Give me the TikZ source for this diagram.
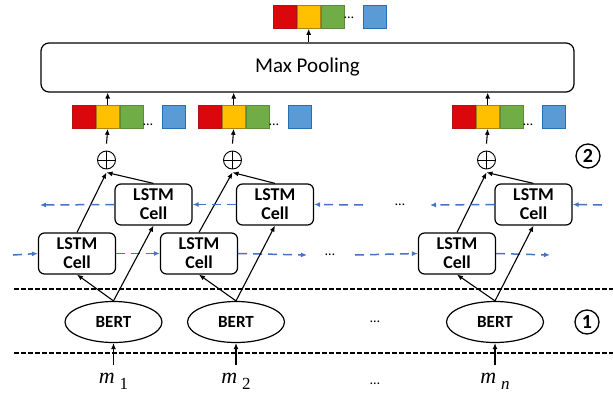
\documentclass[tikz,border=0pt]{standalone}
\usepackage{fontspec}
\setmainfont{Carlito}
\newfontfamily\mserif{Liberation Serif}
\usetikzlibrary{arrows.meta,shapes.geometric}
\definecolor{cred}{RGB}{218,7,12}
\definecolor{credd}{RGB}{170,20,20}
\definecolor{cyel}{RGB}{255,192,0}
\definecolor{cyeld}{RGB}{170,130,20}
\definecolor{cgrn}{RGB}{112,173,71}
\definecolor{cgrnd}{RGB}{90,140,60}
\definecolor{cblu}{RGB}{91,155,213}
\definecolor{cblud}{RGB}{40,110,180}
\definecolor{dashblue}{RGB}{68,114,196}
\tikzset{
  sq/.style={draw, minimum size=23pt, inner sep=0pt, line width=0.8pt, anchor=north west},
  cellbox/.style={draw, rounded corners=6pt, minimum width=77pt, minimum height=41pt,
    line width=1.2pt, align=center, inner sep=0pt,
    font=\fontsize{18}{19}\selectfont\bfseries},
  bertnode/.style={draw, ellipse, minimum width=97pt, minimum height=41pt, line width=1.2pt,
    inner sep=0pt, font=\fontsize{17}{17}\selectfont\bfseries},
  opl/.style={draw, circle, minimum size=18pt, inner sep=0pt, line width=0.9pt},
  arr/.style={-{Latex[length=6pt,width=5pt]}, line width=1.1pt},
  barr/.style={-{Latex[length=6pt,width=5pt]}, dashblue, line width=1.5pt, dash pattern=on 9pt off 6pt},
  sepline/.style={line width=1.2pt, dash pattern=on 5pt off 2pt},
  numcirc/.style={draw, circle, minimum size=24pt, inner sep=0pt, line width=1.3pt,
    font=\fontsize{20}{20}\selectfont\bfseries},
  dotstxt/.style={font=\fontsize{14}{14}\selectfont, inner sep=0pt},
  mlabel/.style={anchor=base, inner sep=0pt, font=\mserif\fontsize{22}{22}\selectfont}
}
\newcommand{\featvec}[4]{%
  \node[sq, fill=cred, draw=credd] (#1r) at (#2,#3) {};
  \node[sq, fill=cyel, draw=cyeld] (#1y) at (#1r.north east) {};
  \node[sq, fill=cgrn, draw=cgrnd] (#1g) at (#1y.north east) {};
  \node[dotstxt, anchor=base] (#1d) at (#2+76,#3+#4) {\dots};
  \node[sq, fill=cblu, draw=cblud] (#1b) at (#2+90,#3) {};
}
\newcommand{\msub}[1]{\textit{m}\hspace{5pt}\raisebox{-6pt}{\fontsize{17}{17}\selectfont #1}}
\begin{document}
\begin{tikzpicture}[x=1pt,y=-1pt]
\useasboundingbox (0,0) rectangle (613,394);

% vectors
\featvec{t}{273}{5}{13}
\featvec{va}{72}{105}{20}
\featvec{vb}{198}{105}{20}
\featvec{vc}{452}{105}{20}

% max pooling
\node[draw, rounded corners=8pt, line width=1.2pt, minimum width=533pt, minimum height=49pt,
  inner sep=0pt, font=\fontsize{21}{24}\selectfont] (mp) at (307.5,67.5) {Max Pooling};
\draw[arr] (mp.north -| ty) -- (ty.south);
\foreach \v in {va,vb,vc}{
  \draw[arr] (\v y.north) -- (mp.south -| \v y);
}

% oplus
\foreach \n/\x in {oa/106.5,ob/232.5,oc/486.5}{
  \node[opl] (\n) at (\x,160) {};
  \draw[line width=0.9pt] (\n.north) -- (\n.south) (\n.west) -- (\n.east);
  \coordinate (\n t) at ([yshift=-3pt]\n.south);
}
\draw[arr] ([yshift=7pt]oa.north) -- (vay.south);
\draw[arr] ([yshift=7pt]ob.north) -- (vby.south);
\draw[arr] ([yshift=7pt]oc.north) -- (vcy.south);

% LSTM cells
\node[cellbox] (la) at (77,253.5) {LSTM\\Cell};
\node[cellbox] (lb) at (199,253.5) {LSTM\\Cell};
\node[cellbox] (lc) at (457,253.5) {LSTM\\Cell};
\node[cellbox] (ua) at (153.5,204.5) {LSTM\\Cell};
\node[cellbox] (ub) at (275,204.5) {LSTM\\Cell};
\node[cellbox] (uc) at (533.5,204.5) {LSTM\\Cell};

% cells -> oplus
\draw[arr] (la.north) -- (oat);
\draw[arr] (ua.north) -- (oat);
\draw[arr] (lb.north) -- (obt);
\draw[arr] (ub.north) -- (obt);
\draw[arr] (lc.north) -- (oct);
\draw[arr] (uc.north) -- (oct);

% dashed blue arrows
\coordinate (u0) at (40,205);
\coordinate (u1) at (363,205);
\coordinate (u2) at (430,205);
\coordinate (u3) at (602,205);
\coordinate (l0) at (13,255);
\coordinate (l1) at (307,255);
\coordinate (l2) at (355,255);
\coordinate (l3) at (550,255);
\draw[barr] (ua.west) -- (u0);
\draw[barr] (ub.west) -- (ua.east);
\draw[barr] (u1) -- (ub.east);
\draw[barr] (uc.west) -- (u2);
\draw[barr] (u3) -- (uc.east);
\draw[barr] (l0) -- (la.west);
\draw[barr] (la.east) -- (lb.west);
\draw[barr] (lb.east) -- (l1);
\draw[barr] (l2) -- (lc.west);
\draw[barr] (lc.east) -- (l3);
\node[dotstxt] (du) at (400,205) {\dots};
\node[dotstxt] (dl) at (330,255) {\dots};

% separator lines
\coordinate (s1a) at (14,289);
\coordinate (s1b) at (613,289);
\coordinate (s2a) at (14,353);
\coordinate (s2b) at (613,353);
\draw[sepline] (s1a) -- (s1b);
\draw[sepline] (s2a) -- (s2b);

% BERT
\node[bertnode] (ba) at (113.5,322) {BERT};
\node[bertnode] (bb) at (236,322) {BERT};
\node[bertnode] (bc) at (495,322) {BERT};
\node[dotstxt] (db) at (375,322) {\dots};

\draw[arr] (ba.north) -- (la.south);
\draw[arr] (ba.north) -- (ua.south);
\draw[arr] (bb.north) -- (lb.south);
\draw[arr] (bb.north) -- (ub.south);
\draw[arr] (bc.north) -- (lc.south);
\draw[arr] (bc.north) -- (uc.south);

% circled numbers
\node[numcirc] (n2) at (588,156) {2};
\node[numcirc] (n1) at (587,322) {1};

% inputs
\node[mlabel] (ma) at (113.5,383) {\msub{1}};
\node[mlabel] (mb) at (236,383) {\msub{2}};
\node[mlabel] (mc) at (495,383) {\msub{\textit{n}}};
\node[dotstxt] (dm) at (375,384) {\dots};
\coordinate (mat) at (113.5,365);
\coordinate (mbt) at (236,365);
\coordinate (mct) at (495,365);
\draw[arr] (mat) -- (ba.south);
\draw[arr] (mbt) -- (bb.south);
\draw[arr] (mct) -- (bc.south);
\end{tikzpicture}
\end{document}
